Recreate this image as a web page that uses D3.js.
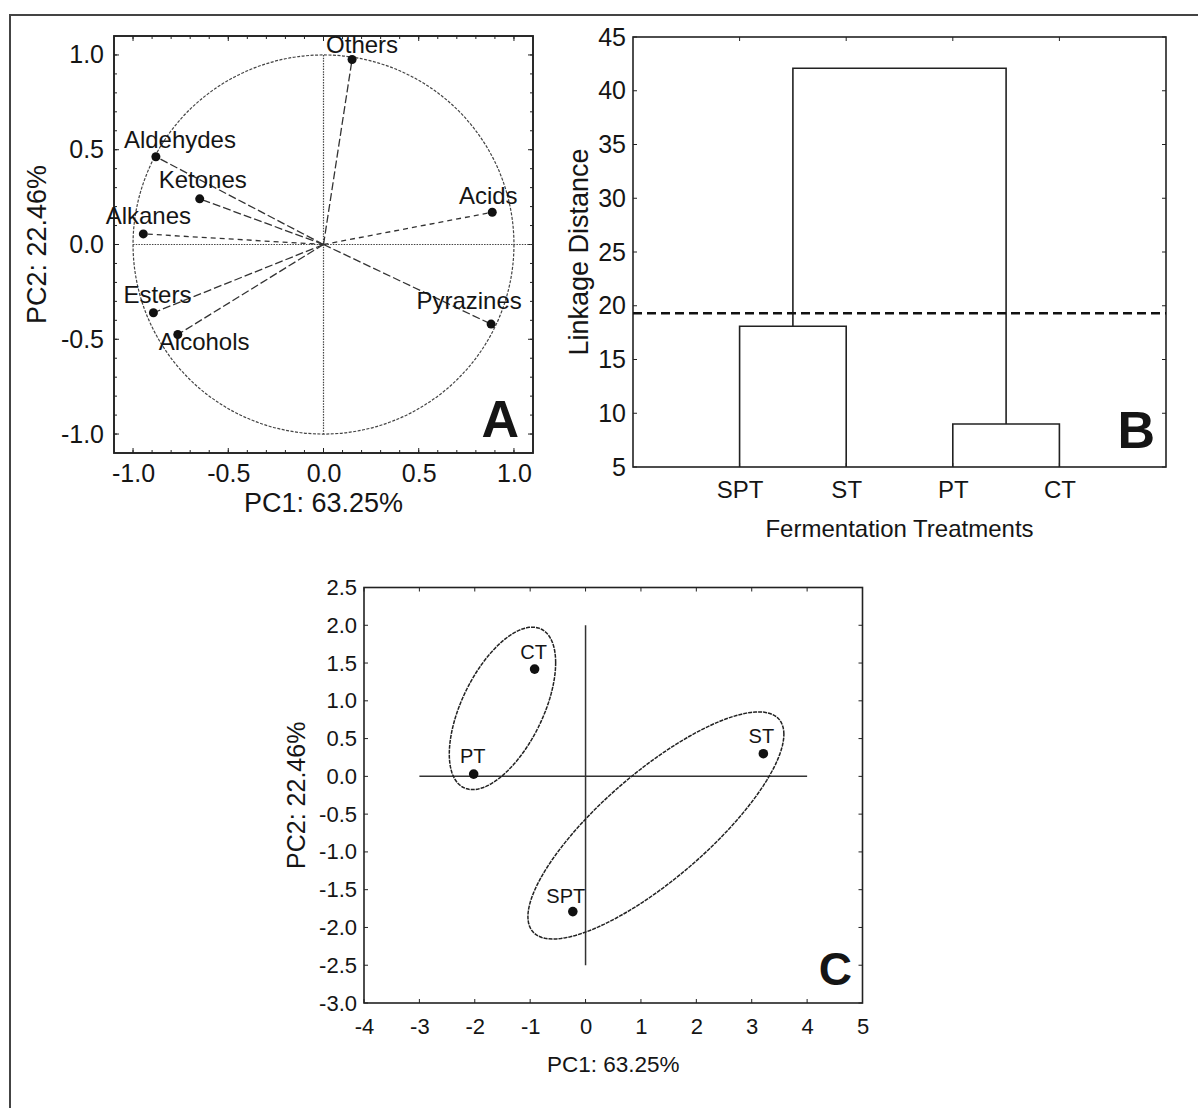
<!DOCTYPE html>
<html>
<head>
<meta charset="utf-8">
<script src="https://cdn.jsdelivr.net/npm/d3@7"></script>
<style>
  body { margin: 0; background: #fff; }
  svg text { font-family: "Liberation Sans", Arial, sans-serif; fill: #151515; }
</style>
</head>
<body>
<script>
// ---- data ----
// panel A: PCA loadings of the volatile classes
const loadingNames = ["Others", "Aldehydes", "Ketones", "Alkanes", "Acids", "Esters", "Alcohols", "Pyrazines"];
const loadingPC1 = [0.15, -0.88, -0.65, -0.946, 0.886, -0.893, -0.765, 0.88];
const loadingPC2 = [0.976, 0.463, 0.241, 0.056, 0.17, -0.36, -0.475, -0.42];
const loadingTicks = [-1.0, -0.5, 0.0, 0.5, 1.0];

// panel B: dendrogram (leaf order, linkage rows [a, b, height], ids >= 4 are clusters)
const treatments = ["SPT", "ST", "PT", "CT"];
const linkage = [[0, 1, 18.1], [2, 3, 9.0], [4, 5, 42.1]];
const cutHeight = 19.3;
const linkageTicks = [5, 10, 15, 20, 25, 30, 35, 40, 45];

// panel C: PCA scores of the treatments
const scoreNames = ["CT", "PT", "ST", "SPT"];
const scorePC1 = [-0.92, -2.02, 3.21, -0.23];
const scorePC2 = [1.42, 0.03, 0.30, -1.79];
// confidence ellipses: centre and covariance [sxx, sxy, syy]
const ellipseCenters = [[-1.5, 0.9], [1.27, -0.65]];
const ellipseCov = [[0.922, 0.58, 1.156], [5.34, 2.79, 2.26]];
const scoreXTicks = [-4, -3, -2, -1, 0, 1, 2, 3, 4, 5];
const scoreYTicks = [2.5, 2.0, 1.5, 1.0, 0.5, 0.0, -0.5, -1.0, -1.5, -2.0, -2.5, -3.0];

const ink = "#222";
// plain hyphen minus like the original figure
const fmt1 = d => d3.format(".1f")(d).replace("\u2212", "-");
const fmt0 = d => d3.format("d")(d).replace("\u2212", "-");

const svg = d3.select("body").append("svg")
    .attr("width", 1198)
    .attr("height", 1108);

// outer figure border (top + left only)
svg.append("path")
    .attr("d", "M10,1108V15H1198")
    .attr("fill", "none")
    .attr("stroke", "#444")
    .attr("stroke-width", 2);

// helper: frame with inward ticks on all 4 sides
function frame(g, x, y, xt, yt, tick) {
    const [x0, x1] = x.range();
    const [y0, y1] = y.range();
    g.append("rect")
        .attr("x", x0).attr("y", y1)
        .attr("width", x1 - x0).attr("height", y0 - y1)
        .attr("fill", "none").attr("stroke", ink).attr("stroke-width", 1.6);
    for (let v of xt) {
        g.append("line").attr("x1", x(v)).attr("x2", x(v)).attr("y1", y0).attr("y2", y0 - tick)
            .attr("stroke", ink);
        g.append("line").attr("x1", x(v)).attr("x2", x(v)).attr("y1", y1).attr("y2", y1 + tick)
            .attr("stroke", ink);
    }
    for (let v of yt) {
        g.append("line").attr("y1", y(v)).attr("y2", y(v)).attr("x1", x0).attr("x2", x0 + tick)
            .attr("stroke", ink);
        g.append("line").attr("y1", y(v)).attr("y2", y(v)).attr("x1", x1).attr("x2", x1 - tick)
            .attr("stroke", ink);
    }
}

// ================= PANEL A =================
const ax = d3.scaleLinear().domain([-1.1, 1.1]).range([114, 533]);
const ay = d3.scaleLinear().domain([-1.1, 1.1]).range([453, 36]);
const gA = svg.append("g");

const minorA = d3.range(-10, 11).map(d => d / 10);
frame(gA, ax, ay, minorA, minorA, 3);
frame(gA, ax, ay, loadingTicks, loadingTicks, 5);

gA.append("g")
    .attr("transform", `translate(0,${ay.range()[0]})`)
    .call(d3.axisBottom(ax).tickValues(loadingTicks).tickFormat(fmt1).tickSize(0).tickPadding(11))
    .call(g => g.select(".domain").remove())
    .selectAll("text").style("font-size", "25px");

gA.append("g")
    .attr("transform", `translate(${ax.range()[0]},0)`)
    .call(d3.axisLeft(ay).tickValues(loadingTicks).tickFormat(fmt1).tickSize(0).tickPadding(10))
    .call(g => g.select(".domain").remove())
    .selectAll("text").style("font-size", "25px");

// unit circle + dotted axes
gA.append("ellipse")
    .attr("cx", ax(0)).attr("cy", ay(0))
    .attr("rx", ax(1) - ax(0)).attr("ry", ay(0) - ay(1))
    .attr("fill", "none").attr("stroke", "#444").attr("stroke-width", 1.2)
    .attr("stroke-dasharray", "3,1.5");
gA.append("line")
    .attr("x1", ax(-1)).attr("x2", ax(1.1)).attr("y1", ay(0)).attr("y2", ay(0))
    .attr("stroke", "#444").attr("stroke-width", 1.2).attr("stroke-dasharray", "1.5,1.2");
gA.append("line")
    .attr("x1", ax(0)).attr("x2", ax(0)).attr("y1", ay(1)).attr("y2", ay(-1))
    .attr("stroke", "#444").attr("stroke-width", 1.2).attr("stroke-dasharray", "1.5,1.2");

const loadings = loadingNames.map((n, i) => ({ name: n, x: loadingPC1[i], y: loadingPC2[i] }));
const rayDash = { Alkanes: "5,4", Acids: "5,4" };
// label placement: dx, dy from point, anchor
const labelPlace = {
    Others: [10, -7, "middle"],
    Aldehydes: [-32, -9, "start"],
    Ketones: [3, -11, "middle"],
    Alkanes: [5, -10, "middle"],
    Acids: [-4, -8, "middle"],
    Esters: [4, -10, "middle"],
    Alcohols: [-19, 15, "start"],
    Pyrazines: [-22, -15, "middle"]
};

gA.selectAll(".ray").data(loadings).enter().append("line")
    .attr("x1", ax(0)).attr("y1", ay(0))
    .attr("x2", d => ax(d.x)).attr("y2", d => ay(d.y))
    .attr("stroke", "#333").attr("stroke-width", 1.3)
    .attr("stroke-dasharray", d => rayDash[d.name] || "8,3");

gA.selectAll(".pt").data(loadings).enter().append("circle")
    .attr("cx", d => ax(d.x)).attr("cy", d => ay(d.y)).attr("r", 4.5)
    .attr("fill", "#111");

gA.selectAll(".lbl").data(loadings).enter().append("text")
    .attr("x", d => ax(d.x) + labelPlace[d.name][0])
    .attr("y", d => ay(d.y) + labelPlace[d.name][1])
    .attr("text-anchor", d => labelPlace[d.name][2])
    .style("font-size", "24px")
    .text(d => d.name);

gA.append("text")
    .attr("transform", `translate(46,${(ay.range()[0] + ay.range()[1]) / 2}) rotate(-90)`)
    .attr("text-anchor", "middle").style("font-size", "27px")
    .text("PC2: 22.46%");
gA.append("text")
    .attr("x", (ax.range()[0] + ax.range()[1]) / 2).attr("y", 512)
    .attr("text-anchor", "middle").style("font-size", "27px")
    .text("PC1: 63.25%");
gA.append("text")
    .attr("x", 519).attr("y", 437)
    .attr("text-anchor", "end").style("font-size", "52px").style("font-weight", "bold")
    .text("A");

// ================= PANEL B =================
const bx = d3.scaleLinear().domain([0, treatments.length + 1]).range([633, 1166]);
const by = d3.scaleLinear().domain([5, 45]).range([467, 37]);
const gB = svg.append("g");
const leafPos = treatments.map((d, i) => i + 1);

frame(gB, bx, by, leafPos, linkageTicks, 4);

gB.append("g")
    .attr("transform", `translate(0,${by.range()[0]})`)
    .call(d3.axisBottom(bx).tickValues(leafPos).tickFormat((d, i) => treatments[i]).tickSize(0).tickPadding(14))
    .call(g => g.select(".domain").remove())
    .selectAll("text").style("font-size", "24px");

gB.append("g")
    .attr("transform", `translate(${bx.range()[0]},0)`)
    .call(d3.axisLeft(by).tickValues(linkageTicks).tickSize(0).tickPadding(7))
    .call(g => g.select(".domain").remove())
    .selectAll("text").style("font-size", "25px");

// nodes: leaves then clusters
const nodes = leafPos.map(p => ({ pos: p, h: 5 }));
for (let [a, b, h] of linkage) {
    const na = nodes[a], nb = nodes[b];
    gB.append("path")
        .attr("d", `M${bx(na.pos)},${by(na.h)}V${by(h)}H${bx(nb.pos)}V${by(nb.h)}`)
        .attr("fill", "none").attr("stroke", ink).attr("stroke-width", 1.6);
    nodes.push({ pos: (na.pos + nb.pos) / 2, h: h });
}

gB.append("line")
    .attr("x1", bx.range()[0]).attr("x2", bx.range()[1])
    .attr("y1", by(cutHeight)).attr("y2", by(cutHeight))
    .attr("stroke", "#111").attr("stroke-width", 2.4).attr("stroke-dasharray", "9,5");

gB.append("text")
    .attr("transform", `translate(588,${(by.range()[0] + by.range()[1]) / 2}) rotate(-90)`)
    .attr("text-anchor", "middle").style("font-size", "27px")
    .text("Linkage Distance");
gB.append("text")
    .attr("x", (bx.range()[0] + bx.range()[1]) / 2).attr("y", 537)
    .attr("text-anchor", "middle").style("font-size", "24px")
    .text("Fermentation Treatments");
gB.append("text")
    .attr("x", 1155).attr("y", 448)
    .attr("text-anchor", "end").style("font-size", "52px").style("font-weight", "bold")
    .text("B");

// ================= PANEL C =================
const cx = d3.scaleLinear().domain([-4, 5]).range([364, 862.5]);
const cy = d3.scaleLinear().domain([-3, 2.5]).range([1003, 587.5]);
const gC = svg.append("g");

frame(gC, cx, cy, scoreXTicks, scoreYTicks, 4);

gC.append("g")
    .attr("transform", `translate(0,${cy.range()[0]})`)
    .call(d3.axisBottom(cx).tickValues(scoreXTicks).tickFormat(fmt0).tickSize(0).tickPadding(15))
    .call(g => g.select(".domain").remove())
    .selectAll("text").style("font-size", "22px");

gC.append("g")
    .attr("transform", `translate(${cx.range()[0]},0)`)
    .call(d3.axisLeft(cy).tickValues(scoreYTicks).tickFormat(fmt1).tickSize(0).tickPadding(7))
    .call(g => g.select(".domain").remove())
    .selectAll("text").style("font-size", "22px");

// solid axes through origin
gC.append("line")
    .attr("x1", cx(-3)).attr("x2", cx(4)).attr("y1", cy(0)).attr("y2", cy(0))
    .attr("stroke", "#333").attr("stroke-width", 1.5);
gC.append("line")
    .attr("x1", cx(0)).attr("x2", cx(0)).attr("y1", cy(2)).attr("y2", cy(-2.5))
    .attr("stroke", "#333").attr("stroke-width", 1.5);

// ellipses from centre + covariance (cholesky)
const line = d3.line().x(d => cx(d[0])).y(d => cy(d[1]));
ellipseCenters.forEach((c, i) => {
    const [sxx, sxy, syy] = ellipseCov[i];
    const l11 = Math.sqrt(sxx), l21 = sxy / l11, l22 = Math.sqrt(syy - l21 * l21);
    const pts = d3.range(0, 361, 3).map(a => {
        const t = a * Math.PI / 180;
        return [c[0] + l11 * Math.cos(t), c[1] + l21 * Math.cos(t) + l22 * Math.sin(t)];
    });
    gC.append("path").attr("d", line(pts))
        .attr("fill", "none").attr("stroke", "#222").attr("stroke-width", 1.5)
        .attr("stroke-dasharray", "4,1");
});

const scores = scoreNames.map((n, i) => ({ name: n, x: scorePC1[i], y: scorePC2[i] }));
const scoreLabel = { CT: [-1, -10], PT: [-1, -11], ST: [-2, -11], SPT: [-7, -9] };
gC.selectAll(".pt").data(scores).enter().append("circle")
    .attr("cx", d => cx(d.x)).attr("cy", d => cy(d.y)).attr("r", 4.8)
    .attr("fill", "#111");
gC.selectAll(".lbl").data(scores).enter().append("text")
    .attr("x", d => cx(d.x) + scoreLabel[d.name][0])
    .attr("y", d => cy(d.y) + scoreLabel[d.name][1])
    .attr("text-anchor", "middle").style("font-size", "20px")
    .text(d => d.name);

gC.append("text")
    .attr("transform", `translate(305,${(cy.range()[0] + cy.range()[1]) / 2}) rotate(-90)`)
    .attr("text-anchor", "middle").style("font-size", "25px")
    .text("PC2: 22.46%");
gC.append("text")
    .attr("x", (cx.range()[0] + cx.range()[1]) / 2).attr("y", 1072)
    .attr("text-anchor", "middle").style("font-size", "22.5px")
    .text("PC1: 63.25%");
gC.append("text")
    .attr("x", 852).attr("y", 985)
    .attr("text-anchor", "end").style("font-size", "46px").style("font-weight", "bold")
    .text("C");
</script>
</body>
</html>
